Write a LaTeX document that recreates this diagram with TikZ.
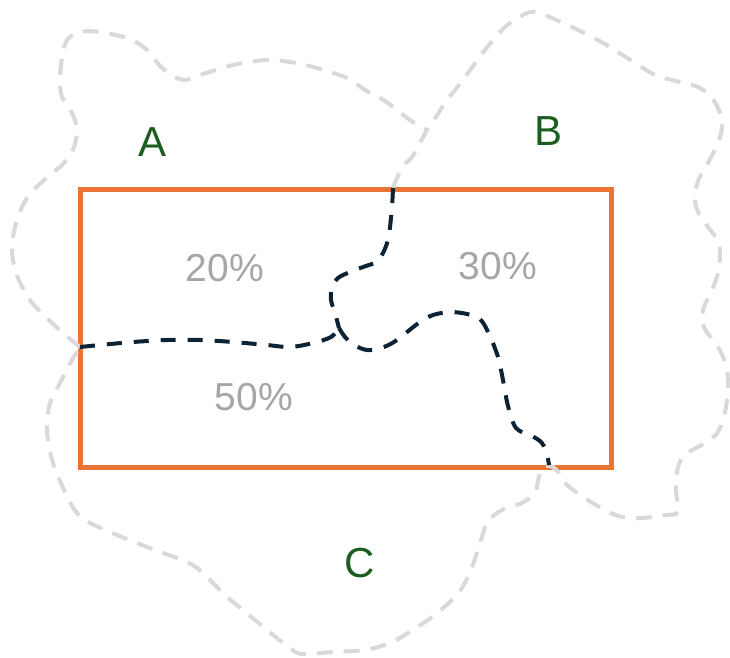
\documentclass[tikz,border=0pt]{standalone}
\usepackage{fontspec}
\setmainfont{Liberation Sans}
\definecolor{rectorange}{HTML}{EA7436}
\definecolor{blobgray}{HTML}{D9D9D9}
\definecolor{divnavy}{HTML}{0D2233}
\definecolor{labgreen}{HTML}{1B5E20}
\definecolor{pctgray}{HTML}{A6A6A6}
\begin{document}
\begin{tikzpicture}[x=1pt,y=-1pt,
  blob/.style={draw=blobgray,line width=4pt,dash pattern=on 16pt off 11pt,smooth,tension=0.55},
  divider/.style={draw=divnavy,line width=4pt,dash pattern=on 15pt off 12pt,smooth,tension=0.55},
  frame/.style={draw=rectorange,line width=5pt},
  region/.style={text=labgreen,font=\fontsize{42}{50}\selectfont},
  share/.style={text=pctgray,font=\fontsize{39}{47}\selectfont}]
\useasboundingbox (0,0) rectangle (730,657);
% junction points
\coordinate (jAC) at (80,347);
\coordinate (jAB) at (393,188);
\coordinate (jBC) at (548,466);
\coordinate (jMid) at (339,328);
\coordinate (jTop) at (427,130);
% frame
\draw[frame] (80,189) rectangle (611,467);
% outer outlines
\draw[blob] plot coordinates {(80,347) (63,333) (48,319) (30,300) (16,273) (12,247) (17,220) (27,198) (43,181) (62,165) (73,150) (77,130) (72,113) (62,97) (60,80) (62,58) (67,40) (80,32) (100,32) (130,39) (148,51) (160,66) (173,76) (185,80) (200,75) (233,65) (267,60) (290,62) (317,68) (347,78) (365,90) (385,101) (410,120) (427,130)};
\draw[blob] plot coordinates {(393,188) (397,178) (403,166) (412,157) (420,143) (427,130) (436,117) (445,103) (465,77) (485,50) (505,27) (525,14) (537,12) (552,18) (578,30) (605,44) (632,61) (655,75) (672,80) (698,87) (712,98) (720,113) (722,127) (718,143) (708,163) (698,181) (695,200) (699,214) (708,227) (718,241) (720,255) (718,273) (712,290) (704,307) (702,320) (706,331) (718,347) (726,365) (728,387) (725,412) (718,432) (705,443) (686,454) (678,467) (676,490) (678,512) (665,515) (642,518) (622,517) (605,510) (583,497) (566,484) (559,473) (553,467) (546,466) (541,470) (538,481) (535,493) (522,503) (511,506) (497,513) (487,523) (480,543) (472,567) (462,588) (451,601) (432,617) (408,633) (390,643) (365,650) (333,652) (302,654) (290,648) (267,630) (243,610) (227,597) (213,583) (197,568) (182,560) (147,547) (117,535) (90,523) (77,513) (67,496) (53,463) (47,430) (50,403) (60,383) (72,360) (80,347)};
% dividers inside the frame
\draw[divider] plot coordinates {(393,188) (392,207) (390,227) (388,240) (383,253) (376,262) (363,267) (350,272) (338,278) (332,288) (331,300) (335,313) (339,328)};
\draw[divider] plot coordinates {(80,347) (100,345) (133,342) (167,340) (200,340) (233,342) (267,345) (290,347) (313,343) (331,337) (339,328)};
\draw[divider] plot coordinates {(339,328) (345,337) (354,345) (367,350) (381,348) (394,342) (407,332) (420,322) (433,315) (450,312) (467,314) (480,319) (489,334) (498,357) (503,380) (508,406) (516,428) (532,436) (542,443) (547,455) (549,465)};
% labels
\node[region] (labA) at (153,142) {A};
\node[region] (labB) at (548,131) {B};
\node[region] (labC) at (360,563) {C};
\node[share] (pA) at (225,268) {20\%};
\node[share] (pB) at (498,266) {30\%};
\node[share] (pC) at (254,397) {50\%};
\end{tikzpicture}
\end{document}
